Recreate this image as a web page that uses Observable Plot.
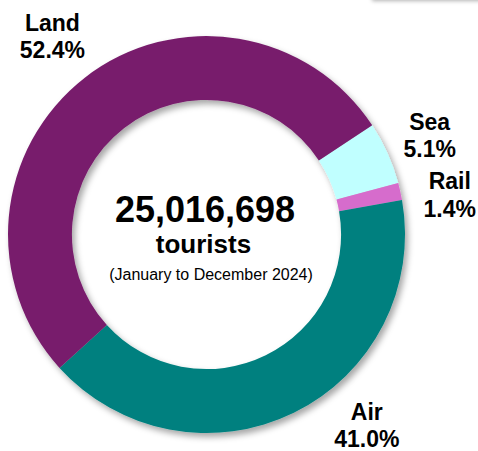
<!DOCTYPE html>
<html><head><meta charset="utf-8">
<script src="https://cdn.jsdelivr.net/npm/d3@7"></script>
<script src="https://cdn.jsdelivr.net/npm/@observablehq/plot@0.6"></script>
<style>
html,body{margin:0;padding:0;background:#fff;}
#wrap{position:relative;width:478px;height:451px;overflow:hidden;}
#box{position:absolute;left:372px;top:-30px;width:120px;height:30px;background:#fff;box-shadow:0 1px 4px rgba(0,0,0,0.3);z-index:2;}
</style></head><body>
<div id="wrap"><div id="chart"></div><div id="box"></div></div>
<script>
// ---- data ----
const modes = ["Sea", "Rail", "Air", "Land"];
const shares = [5.1, 1.4, 41.0, 52.4];
const colors = ["#c0ffff", "#d66ccc", "#00807f", "#781f6c"];
const totalLabel = "25,016,698";
const unitLabel = "tourists";
const periodLabel = "(January to December 2024)";

// ---- layout ----
const W = 478, H = 451;
const cx = 206.5, cy = 234.5, R = 198.5, innerRatio = 0.678;
const startDeg = 56.6;
const labelLayout = {Sea: {da: 0, r: 1.23}, Rail: {da: 3, r: 1.24}, Air: {da: -14, r: 1.25}, Land: {da: 0, r: 1.27}};

const data = modes.map((m, i) => ({mode: m, share: shares[i]}));
const a0 = startDeg * Math.PI / 180;
const arcs = d3.pie().sort(null).value(d => d.share).startAngle(a0).endAngle(a0 + 2 * Math.PI)(data);
const labels = arcs.map(a => {
  const L = labelLayout[a.data.mode];
  const mid = (a.startAngle + a.endAngle) / 2 + L.da * Math.PI / 180;
  return {mode: a.data.mode, share: a.data.share, lx: L.r * Math.sin(mid), ly: L.r * Math.cos(mid)};
});

function donut(index, scales) {
  const {x, y, color} = scales;
  const px = x(0), py = y(0), rOut = x(1) - x(0), rIn = rOut * innerRatio;
  const g = d3.create("svg:g");
  const f = g.append("defs").append("filter").attr("id", "dshadow")
    .attr("x", "-10%").attr("y", "-10%").attr("width", "120%").attr("height", "120%");
  f.append("feDropShadow").attr("dx", 3).attr("dy", 4).attr("stdDeviation", 3)
    .attr("flood-color", "#000").attr("flood-opacity", 0.35);
  const arc = d3.arc().innerRadius(rIn).outerRadius(rOut);
  g.append("g").attr("transform", `translate(${px},${py})`).attr("filter", "url(#dshadow)")
    .selectAll("path").data(arcs).join("path")
    .attr("d", arc).attr("fill", d => color(d.data.mode));
  return g.node();
}

const chart = Plot.plot({
  width: W, height: H,
  marginTop: 0, marginRight: 0, marginBottom: 0, marginLeft: 0,
  style: {fontFamily: "'Liberation Sans', Arial, sans-serif", background: "transparent"},
  x: {domain: [-cx / R, (W - cx) / R], range: [0, W], axis: null},
  y: {domain: [-(H - cy) / R, cy / R], range: [H, 0], axis: null},
  color: {type: "ordinal", domain: modes, range: colors},
  marks: [
    donut,
    Plot.dot(data, {x: () => 0, y: () => 0, fill: "mode", r: 0}),
    Plot.text(labels, {x: "lx", y: "ly", text: d => `${d.mode}\n${d.share.toFixed(1)}%`,
      fontSize: 23, fontWeight: "bold", lineHeight: 1.2, fill: "#000"}),
    Plot.text([totalLabel], {x: 0, y: 0, text: d => d, dx: -2, dy: -25, fontSize: 36, fontWeight: "bold", fill: "#000"}),
    Plot.text([unitLabel], {x: 0, y: 0, text: d => d, dx: -3.5, dy: 10, fontSize: 26, fontWeight: "bold", fill: "#000"}),
    Plot.text([periodLabel], {x: 0, y: 0, text: d => d, dx: 4, dy: 39.5, fontSize: 16, fill: "#000"})
  ]
});
document.getElementById("chart").append(chart);
</script>
</body></html>
